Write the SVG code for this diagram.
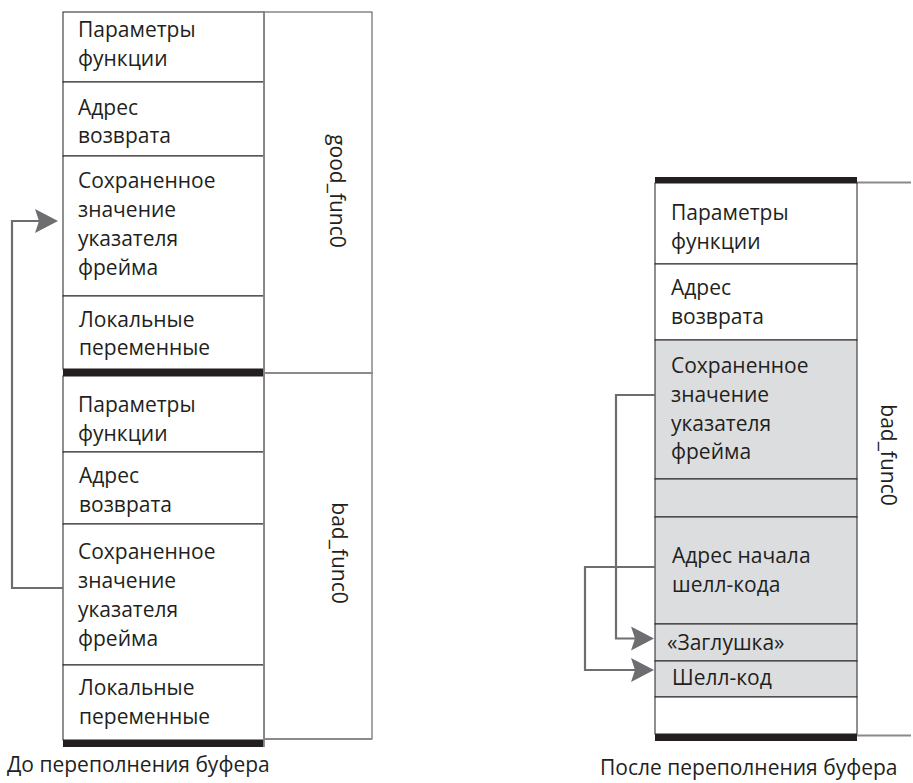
<svg xmlns="http://www.w3.org/2000/svg" width="913" height="783" viewBox="0 0 913 783">
<style>
.cell{fill:#ffffff;stroke:#231f20;stroke-width:1}
.sh{fill:#dcdddf;stroke:#231f20;stroke-width:1}
.t{font-family:"Open Sans","Noto Sans",sans-serif;font-size:21px;fill:#231f20}
.bar{fill:#231f20}
.col{fill:none;stroke:#4d4d4f;stroke-width:1}
.gl{fill:none;stroke:#8a8a8c;stroke-width:1.8}
.conn{fill:none;stroke:#6d6e71;stroke-width:2.2}
</style>
<defs>
<marker id="ah" markerUnits="userSpaceOnUse" markerWidth="24" markerHeight="24" refX="19" refY="12" orient="auto">
<path d="M0,0 L23,12 L0,24 L4,12 Z" fill="#6d6e71"/>
</marker>
</defs>
<rect width="913" height="783" fill="#ffffff"/>

<!-- left stack: label columns -->
<g id="good_func0">
<rect class="col" x="264" y="12" width="108" height="361"/>
<text class="t" transform="translate(330,191) rotate(90)" text-anchor="middle">good_func0</text>
</g>
<g id="bad_func0_left">
<rect class="col" x="264" y="373" width="108" height="366"/>
<line class="gl" x1="264" y1="373" x2="372" y2="373"/>
<line class="gl" x1="264" y1="739" x2="372" y2="739"/>
<text class="t" transform="translate(332,553) rotate(90)" text-anchor="middle">bad_func0</text>
</g>

<g id="L1"><rect class="cell" x="63" y="12" width="201" height="70"/>
<text class="t" x="78" y="37">Параметры</text><text class="t" x="78" y="66">функции</text></g>
<g id="L2"><rect class="cell" x="63" y="82" width="201" height="74"/>
<text class="t" x="78" y="115">Адрес</text><text class="t" x="78" y="143">возврата</text></g>
<g id="L3"><rect class="cell" x="63" y="156" width="201" height="140"/>
<text class="t" x="78" y="188">Сохраненное</text><text class="t" x="78" y="217">значение</text><text class="t" x="78" y="246">указателя</text><text class="t" x="78" y="275">фрейма</text></g>
<g id="L4"><rect class="cell" x="63" y="296" width="201" height="73"/>
<text class="t" x="79" y="327">Локальные</text><text class="t" x="79" y="355">переменные</text></g>
<rect class="bar" x="63" y="369" width="201" height="7"/>
<g id="L5"><rect class="cell" x="63" y="376" width="201" height="76"/>
<text class="t" x="78" y="412">Параметры</text><text class="t" x="78" y="441">функции</text></g>
<g id="L6"><rect class="cell" x="63" y="452" width="201" height="72"/>
<text class="t" x="79" y="483">Адрес</text><text class="t" x="79" y="512">возврата</text></g>
<g id="L7"><rect class="cell" x="63" y="524" width="201" height="141"/>
<text class="t" x="78" y="559">Сохраненное</text><text class="t" x="78" y="588">значение</text><text class="t" x="78" y="617">указателя</text><text class="t" x="78" y="646">фрейма</text></g>
<g id="L8"><rect class="cell" x="63" y="665" width="201" height="75"/>
<text class="t" x="79" y="695">Локальные</text><text class="t" x="79" y="724">переменные</text></g>
<rect class="bar" x="63" y="740" width="201" height="7"/>
<line class="gl" x1="264" y1="12" x2="264" y2="747"/>

<!-- right stack -->
<g id="bad_func0_right">
<line class="gl" x1="857" y1="182.5" x2="911" y2="182.5"/>
<line class="gl" x1="857" y1="735.5" x2="911" y2="735.5"/>
<text class="t" transform="translate(881,455) rotate(90)" text-anchor="middle">bad_func0</text>
</g>
<g id="R1"><rect class="cell" x="655" y="183" width="202" height="81"/>
<text class="t" x="671" y="220">Параметры</text><text class="t" x="671" y="249">функции</text></g>
<g id="R2"><rect class="cell" x="655" y="264" width="202" height="76"/>
<text class="t" x="671" y="295">Адрес</text><text class="t" x="671" y="324">возврата</text></g>
<g id="R3"><rect class="sh" x="655" y="340" width="202" height="139"/>
<text class="t" x="671" y="373">Сохраненное</text><text class="t" x="671" y="402">значение</text><text class="t" x="671" y="431">указателя</text><text class="t" x="671" y="459">фрейма</text></g>
<g id="R4"><rect class="sh" x="655" y="479" width="202" height="38"/></g>
<g id="R5"><rect class="sh" x="655" y="517" width="202" height="107"/>
<text class="t" x="672" y="563">Адрес начала</text><text class="t" x="672" y="592">шелл-кода</text></g>
<g id="R6"><rect class="sh" x="655" y="624" width="202" height="37"/>
<text class="t" x="667" y="650">«Заглушка»</text></g>
<g id="R7"><rect class="sh" x="655" y="661" width="202" height="36"/>
<text class="t" x="672" y="685">Шелл-код</text></g>
<g id="R8"><rect class="cell" x="655" y="697" width="202" height="37"/></g>
<rect class="bar" x="655" y="177" width="202" height="6"/>
<rect class="bar" x="655" y="734" width="202" height="7"/>

<!-- connectors -->
<g id="connectors">
<path class="conn" d="M63,588 H12 V221 H54" marker-end="url(#ah)"/>
<path class="conn" d="M655,395 H616 V638.5 H650" marker-end="url(#ah)"/>
<path class="conn" d="M655,567 H585 V670 H650" marker-end="url(#ah)"/>
</g>

<text class="t" x="7" y="772">До переполнения буфера</text>
<text class="t" x="600" y="775">После переполнения буфера</text>
</svg>
